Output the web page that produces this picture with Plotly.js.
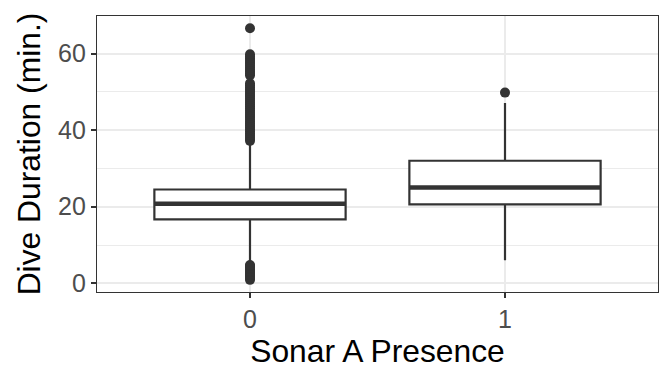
<!DOCTYPE html>
<html>
<head>
<meta charset="utf-8">
<script src="https://cdn.plot.ly/plotly-3.0.1.min.js"></script>
<style>html,body{margin:0;padding:0;background:#fff;}#chart{width:672px;height:384px;}</style>
</head>
<body>
<div id="chart"></div>
<script>
// Category labels and positions
const categories = ['0', '1'];
const positions = [0, 1];

// Box summary statistics (minutes)
const q1Values = [16.7, 20.6];
const medianValues = [20.8, 25.0];
const q3Values = [24.5, 32.0];
const lowerWhisker = [5.2, 6.0];
const upperWhisker = [36.3, 47.1];

// Outliers per group
const outliers0 = [
  0.9, 1.3, 1.7, 2.1, 2.5, 2.9, 3.3, 3.7, 4.1, 4.5, 4.8,
  37.2, 37.7, 38.2, 38.7, 39.2, 39.7, 40.2, 40.7, 41.2, 41.7, 42.2, 42.7,
  43.2, 43.7, 44.2, 44.7, 45.2, 45.7, 46.2, 46.7, 47.2, 47.7, 48.2, 48.7,
  49.2, 49.7, 50.2, 50.7, 51.2, 51.7, 52.2,
  54.3, 54.8, 55.3, 55.8, 56.3, 56.8, 57.3, 57.8, 58.3, 58.8, 59.3, 59.8,
  66.6
];
const outliers1 = [49.8];

const boxWidth = 0.75;
const dark = '#333333';

const traces = [];
traces.push({
  type: 'box',
  x: positions,
  q1: q1Values,
  median: medianValues,
  q3: q3Values,
  lowerfence: lowerWhisker,
  upperfence: upperWhisker,
  width: boxWidth,
  fillcolor: '#ffffff',
  line: {color: dark, width: 2.2},
  whiskerwidth: 0,
  boxpoints: false,
  hoverinfo: 'skip',
  showlegend: false
});
// thick median bars
positions.forEach((p, i) => {
  traces.push({
    type: 'scatter', mode: 'lines',
    x: [p - boxWidth / 2, p + boxWidth / 2],
    y: [medianValues[i], medianValues[i]],
    line: {color: dark, width: 4.5},
    hoverinfo: 'skip', showlegend: false
  });
});
const outlierSets = [outliers0, outliers1];
outlierSets.forEach((set, i) => {
  traces.push({
    type: 'scatter', mode: 'markers',
    x: set.map(() => positions[i]),
    y: set,
    marker: {color: dark, size: 10, line: {width: 0}},
    hoverinfo: 'skip', showlegend: false
  });
});

const layout = {
  width: 672, height: 384,
  margin: {l: 97, r: 14, t: 16, b: 92},
  paper_bgcolor: '#ffffff', plot_bgcolor: '#ffffff',
  font: {family: 'Liberation Sans, Arial, sans-serif'},
  showlegend: false,
  xaxis: {
    range: [-0.6, 1.6],
    tickvals: positions, ticktext: categories,
    showgrid: true, gridcolor: '#EBEBEB', gridwidth: 2,
    zeroline: false,
    showline: true, mirror: true, linecolor: dark, linewidth: 1.2,
    ticks: 'outside', ticklen: 5, tickwidth: 2, tickcolor: dark,
    tickfont: {size: 25, color: '#4D4D4D'},
    title: {text: 'Sonar A Presence', font: {size: 31.8, color: '#000000'}, standoff: 6},
    automargin: false
  },
  yaxis: {
    range: [-2.27, 69.8],
    tickvals: [0, 20, 40, 60],
    showgrid: true, gridcolor: '#EBEBEB', gridwidth: 2,
    minor: {tickvals: [10, 30, 50], showgrid: true, gridcolor: '#EBEBEB', gridwidth: 1, ticks: ''},
    zeroline: false,
    showline: true, mirror: true, linecolor: dark, linewidth: 1.2,
    ticks: 'outside', ticklen: 5, tickwidth: 2, tickcolor: dark,
    tickfont: {size: 25, color: '#4D4D4D'},
    title: {text: 'Dive Duration (min.)', font: {size: 31.8, color: '#000000'}, standoff: 7},
    automargin: false
  }
};

Plotly.newPlot('chart', traces, layout, {displayModeBar: false, staticPlot: true});
</script>
</body>
</html>
